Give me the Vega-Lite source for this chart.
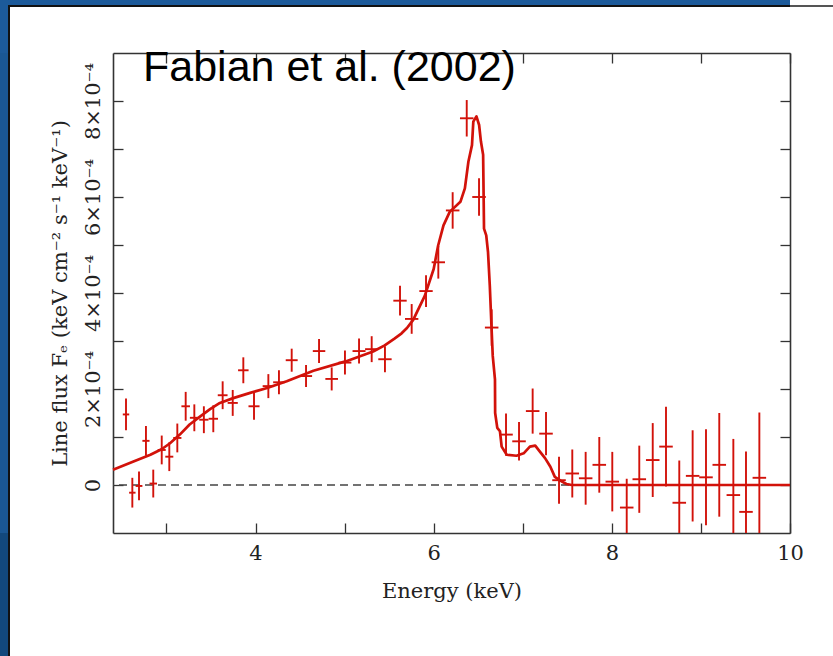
{
  "$schema": "https://vega.github.io/schema/vega-lite/v6.json",
  "background": "white",
  "padding": 0,
  "columns": 5,
  "spacing": 0,
  "align": "each",
  "bounds": "flush",
  "datasets": {
    "model": [
      {"E": 2.40, "F": 0.32}, {"E": 2.63, "F": 0.49}, {"E": 2.82, "F": 0.63}, {"E": 2.95, "F": 0.75},
      {"E": 3.04, "F": 0.87}, {"E": 3.15, "F": 1.05}, {"E": 3.26, "F": 1.26}, {"E": 3.38, "F": 1.43},
      {"E": 3.49, "F": 1.58}, {"E": 3.60, "F": 1.71}, {"E": 3.75, "F": 1.81}, {"E": 3.94, "F": 1.92},
      {"E": 4.13, "F": 2.02}, {"E": 4.35, "F": 2.16}, {"E": 4.65, "F": 2.38}, {"E": 5.02, "F": 2.58},
      {"E": 5.32, "F": 2.78}, {"E": 5.45, "F": 2.91}, {"E": 5.56, "F": 3.05}, {"E": 5.64, "F": 3.16},
      {"E": 5.70, "F": 3.27}, {"E": 5.77, "F": 3.44}, {"E": 5.90, "F": 3.94}, {"E": 6.00, "F": 4.50},
      {"E": 6.05, "F": 4.99}, {"E": 6.11, "F": 5.41}, {"E": 6.18, "F": 5.69}, {"E": 6.30, "F": 5.90},
      {"E": 6.35, "F": 6.18}, {"E": 6.39, "F": 6.74}, {"E": 6.43, "F": 7.08}, {"E": 6.445, "F": 7.57},
      {"E": 6.48, "F": 7.68}, {"E": 6.51, "F": 7.50}, {"E": 6.53, "F": 7.16}, {"E": 6.555, "F": 6.88},
      {"E": 6.565, "F": 5.34}, {"E": 6.59, "F": 5.20}, {"E": 6.61, "F": 4.85}, {"E": 6.63, "F": 4.15},
      {"E": 6.65, "F": 3.25}, {"E": 6.663, "F": 2.69}, {"E": 6.688, "F": 2.20}, {"E": 6.69, "F": 1.50},
      {"E": 6.714, "F": 1.19}, {"E": 6.744, "F": 1.12}, {"E": 6.763, "F": 0.80}, {"E": 6.82, "F": 0.63},
      {"E": 6.93, "F": 0.61}, {"E": 7.01, "F": 0.66}, {"E": 7.08, "F": 0.80}, {"E": 7.14, "F": 0.82},
      {"E": 7.19, "F": 0.70}, {"E": 7.25, "F": 0.56}, {"E": 7.31, "F": 0.38}, {"E": 7.36, "F": 0.17},
      {"E": 7.44, "F": 0.07}, {"E": 7.49, "F": 0.02}, {"E": 7.55, "F": 0.0}, {"E": 10.0, "F": 0.0}
    ],
    "spectrum": [
      {"E": 2.546, "F": 1.47, "dE": 0.036, "dF": 0.33},
      {"E": 2.617, "F": -0.16, "dE": 0.036, "dF": 0.31},
      {"E": 2.692, "F": -0.02, "dE": 0.038, "dF": 0.30},
      {"E": 2.770, "F": 0.92, "dE": 0.040, "dF": 0.31},
      {"E": 2.852, "F": 0.03, "dE": 0.042, "dF": 0.29},
      {"E": 2.947, "F": 0.73, "dE": 0.045, "dF": 0.30},
      {"E": 3.032, "F": 0.59, "dE": 0.045, "dF": 0.30},
      {"E": 3.122, "F": 0.98, "dE": 0.046, "dF": 0.30},
      {"E": 3.216, "F": 1.64, "dE": 0.048, "dF": 0.30},
      {"E": 3.313, "F": 1.40, "dE": 0.050, "dF": 0.28},
      {"E": 3.420, "F": 1.36, "dE": 0.052, "dF": 0.28},
      {"E": 3.526, "F": 1.38, "dE": 0.053, "dF": 0.28},
      {"E": 3.631, "F": 1.87, "dE": 0.055, "dF": 0.29},
      {"E": 3.744, "F": 1.71, "dE": 0.057, "dF": 0.27},
      {"E": 3.863, "F": 2.39, "dE": 0.059, "dF": 0.27},
      {"E": 3.983, "F": 1.64, "dE": 0.062, "dF": 0.28},
      {"E": 4.144, "F": 2.06, "dE": 0.064, "dF": 0.25},
      {"E": 4.263, "F": 2.14, "dE": 0.065, "dF": 0.25},
      {"E": 4.406, "F": 2.60, "dE": 0.067, "dF": 0.24},
      {"E": 4.567, "F": 2.27, "dE": 0.068, "dF": 0.23},
      {"E": 4.713, "F": 2.79, "dE": 0.070, "dF": 0.25},
      {"E": 4.855, "F": 2.21, "dE": 0.071, "dF": 0.24},
      {"E": 5.004, "F": 2.55, "dE": 0.072, "dF": 0.25},
      {"E": 5.162, "F": 2.79, "dE": 0.073, "dF": 0.26},
      {"E": 5.304, "F": 2.83, "dE": 0.074, "dF": 0.27},
      {"E": 5.453, "F": 2.62, "dE": 0.075, "dF": 0.27},
      {"E": 5.622, "F": 3.84, "dE": 0.075, "dF": 0.31},
      {"E": 5.753, "F": 3.46, "dE": 0.075, "dF": 0.31},
      {"E": 5.914, "F": 4.04, "dE": 0.075, "dF": 0.33},
      {"E": 6.052, "F": 4.64, "dE": 0.075, "dF": 0.34},
      {"E": 6.213, "F": 5.72, "dE": 0.076, "dF": 0.38},
      {"E": 6.371, "F": 7.64, "dE": 0.076, "dF": 0.38},
      {"E": 6.509, "F": 6.00, "dE": 0.076, "dF": 0.39},
      {"E": 6.651, "F": 3.28, "dE": 0.076, "dF": 0.38},
      {"E": 6.812, "F": 1.05, "dE": 0.076, "dF": 0.44},
      {"E": 6.958, "F": 0.91, "dE": 0.076, "dF": 0.40},
      {"E": 7.111, "F": 1.54, "dE": 0.076, "dF": 0.47},
      {"E": 7.261, "F": 1.07, "dE": 0.076, "dF": 0.45},
      {"E": 7.407, "F": 0.10, "dE": 0.076, "dF": 0.49},
      {"E": 7.556, "F": 0.24, "dE": 0.076, "dF": 0.50},
      {"E": 7.706, "F": 0.14, "dE": 0.076, "dF": 0.55},
      {"E": 7.859, "F": 0.42, "dE": 0.076, "dF": 0.58},
      {"E": 8.005, "F": 0.07, "dE": 0.076, "dF": 0.62},
      {"E": 8.167, "F": -0.47, "dE": 0.076, "dF": 0.60},
      {"E": 8.308, "F": 0.12, "dE": 0.076, "dF": 0.70},
      {"E": 8.459, "F": 0.52, "dE": 0.076, "dF": 0.77},
      {"E": 8.608, "F": 0.80, "dE": 0.076, "dF": 0.83},
      {"E": 8.757, "F": -0.37, "dE": 0.076, "dF": 0.88},
      {"E": 8.907, "F": 0.19, "dE": 0.076, "dF": 0.95},
      {"E": 9.057, "F": 0.16, "dE": 0.076, "dF": 1.00},
      {"E": 9.206, "F": 0.42, "dE": 0.076, "dF": 1.08},
      {"E": 9.364, "F": -0.21, "dE": 0.076, "dF": 1.17},
      {"E": 9.506, "F": -0.56, "dE": 0.076, "dF": 1.26},
      {"E": 9.656, "F": 0.15, "dE": 0.076, "dF": 1.36}
    ]
  },
  "concat": [
    {"width": 8, "height": 5, "view": {"fill": "#1c5a9a"}, "data": {"values": []}, "mark": "point"},
    {"width": 2, "height": 5, "view": {"fill": "#1c5a9a"}, "data": {"values": []}, "mark": "point"},
    {"width": 103, "height": 5, "view": {"fill": "#1c5a9a"}, "data": {"values": []}, "mark": "point"},
    {"width": 677, "height": 5, "view": {"fill": "#1c5a9a"}, "data": {"values": []}, "mark": "point"},
    {"width": 43, "height": 5, "data": {"values": []}, "mark": "point"},

    {"width": 8, "height": 2, "view": {"fill": "#1c5a9a"}, "data": {"values": []}, "mark": "point"},
    {"width": 2, "height": 2, "view": {"fill": "#111111"}, "data": {"values": []}, "mark": "point"},
    {"width": 103, "height": 2, "view": {"fill": "#111111"}, "data": {"values": []}, "mark": "point"},
    {"width": 677, "height": 2, "view": {"fill": "#111111"}, "data": {"values": []}, "mark": "point"},
    {"width": 43, "height": 2, "view": {"fill": "#555555"}, "data": {"values": []}, "mark": "point"},

    {"width": 8, "height": 46, "view": {"fill": "#1c5a9a"}, "data": {"values": []}, "mark": "point"},
    {"width": 2, "height": 46, "view": {"fill": "#111111"}, "data": {"values": []}, "mark": "point"},
    {"width": 103, "height": 46, "data": {"values": []}, "mark": "point"},
    {"width": 677, "height": 46, "data": {"values": []}, "mark": "point"},
    {"width": 43, "height": 46, "data": {"values": []}, "mark": "point"},

    {"width": 8, "height": 480, "view": {"fill": "#1a5794"}, "data": {"values": []}, "mark": "point"},
    {"width": 2, "height": 480, "view": {"fill": "#111111"}, "data": {"values": []}, "mark": "point"},
    {"width": 103, "height": 480, "data": {"values": []}, "mark": "point"},
    {
      "width": 677,
      "height": 480,
      "layer": [
        {
          "data": {"values": [{}]},
          "mark": {"type": "rule", "color": "#444444", "strokeWidth": 1.3, "strokeDash": [8, 5]},
          "encoding": {"y": {"datum": 0, "type": "quantitative", "axis": null}}
        },
        {
          "data": {"name": "model"},
          "mark": {"type": "line", "color": "#d2120a", "strokeWidth": 2.7, "strokeJoin": "round"},
          "encoding": {
            "x": {
              "field": "E", "type": "quantitative",
              "scale": {"domain": [2.4, 10], "nice": false, "zero": false},
              "axis": {
                "orient": "bottom", "values": [3, 4, 5, 6, 7, 8, 9, 10],
                "labelExpr": "datum.value % 2 == 0 ? datum.label : ''",
                "tickSize": -10, "labelPadding": 19, "labelFlush": false,
                "title": "Energy (keV)", "titlePadding": 17
              }
            },
            "y": {
              "field": "F", "type": "quantitative",
              "scale": {"domain": [-1, 9], "nice": false, "zero": false, "clamp": true},
              "axis": {
                "orient": "left", "values": [0, 1, 2, 3, 4, 5, 6, 7, 8],
                "labelExpr": "datum.value == 0 ? '0' : (datum.value % 2 == 0 ? datum.value + '×10⁻⁴' : '')",
                "labelAngle": -90, "labelAlign": "center", "labelBaseline": "bottom",
                "tickSize": -10, "labelPadding": 20, "labelFlush": false,
                "title": "Line flux Fₑ (keV cm⁻² s⁻¹ keV⁻¹)", "titlePadding": 12
              }
            }
          }
        },
        {
          "data": {"name": "spectrum"},
          "mark": {"type": "errorbar", "color": "#d2120a", "thickness": 1.9},
          "encoding": {
            "x": {"field": "E", "type": "quantitative", "axis": null},
            "y": {"field": "F", "type": "quantitative", "axis": null},
            "yError": {"field": "dF"}
          }
        },
        {
          "data": {"name": "spectrum"},
          "mark": {"type": "errorbar", "color": "#d2120a", "thickness": 1.9},
          "encoding": {
            "y": {"field": "F", "type": "quantitative", "axis": null},
            "x": {"field": "E", "type": "quantitative", "axis": null},
            "xError": {"field": "dE"}
          }
        },
        {
          "data": {"values": [{"E": 2.737, "F": 8.42, "label": "Fabian et al. (2002)"}]},
          "mark": {"type": "text", "align": "left", "baseline": "alphabetic", "font": "Liberation Sans", "fontSize": 43, "color": "black"},
          "encoding": {
            "x": {
              "field": "E", "type": "quantitative",
              "axis": {"orient": "top", "values": [3, 4, 5, 6, 7, 8, 9, 10], "labels": false, "tickSize": -10, "title": null}
            },
            "y": {
              "field": "F", "type": "quantitative",
              "axis": {"orient": "right", "values": [0, 1, 2, 3, 4, 5, 6, 7, 8], "labels": false, "tickSize": -10, "title": null}
            },
            "text": {"field": "label"}
          }
        }
      ],
      "resolve": {"axis": {"x": "independent", "y": "independent"}}
    },
    {"width": 43, "height": 480, "data": {"values": []}, "mark": "point"},

    {"width": 8, "height": 123, "view": {"fill": "#12487c"}, "data": {"values": []}, "mark": "point"},
    {"width": 2, "height": 123, "view": {"fill": "#111111"}, "data": {"values": []}, "mark": "point"},
    {"width": 103, "height": 123, "data": {"values": []}, "mark": "point"},
    {"width": 677, "height": 123, "data": {"values": []}, "mark": "point"},
    {"width": 43, "height": 123, "data": {"values": []}, "mark": "point"}
  ],
  "config": {
    "view": {"stroke": null},
    "axis": {
      "grid": false,
      "domainColor": "#333333", "domainWidth": 1.6,
      "tickColor": "#333333", "tickWidth": 1.3,
      "labelFont": "DejaVu Serif", "labelFontSize": 21, "labelColor": "#222222",
      "titleFont": "DejaVu Serif", "titleFontSize": 21, "titleFontWeight": "normal", "titleColor": "#222222"
    }
  }
}
